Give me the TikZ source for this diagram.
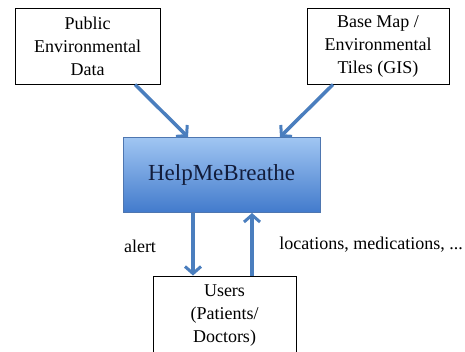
\documentclass[tikz,border=0pt]{standalone}
\usepackage{fontspec}
\setmainfont{Liberation Serif}
\usetikzlibrary{arrows.meta}
\definecolor{arrowblue}{RGB}{74,126,190}
\definecolor{boxtop}{RGB}{160,198,242}
\definecolor{boxbot}{RGB}{66,122,204}
\definecolor{boxedge}{RGB}{78,118,176}
\definecolor{navytext}{RGB}{18,28,58}
\tikzset{
  plainbox/.style={draw=black, line width=1pt, fill=white, align=center,
    font=\fontsize{18}{23}\selectfont, inner sep=0pt},
  mainbox/.style={draw=boxedge, line width=1pt, top color=boxtop, bottom color=boxbot,
    font=\fontsize{23}{27}\selectfont, text=navytext, inner sep=0pt},
  flow/.style={draw=arrowblue, line width=3.5pt,
    -{Straight Barb[length=7pt,width=16pt,line width=3pt]}},
  lbl/.style={font=\fontsize{18}{22}\selectfont, inner sep=0pt}
}
\begin{document}
\begin{tikzpicture}[x=1pt,y=-1pt]
\clip (0,0) rectangle (465,351);
\fill[white] (0,0) rectangle (465,351);
\node[plainbox, minimum width=145pt, minimum height=76pt] (pub) at (87.5,46) {Public\\Environmental\\Data};
\node[plainbox, minimum width=142pt, minimum height=76pt] (base) at (378,46) {Base Map /\\Environmental\\Tiles (GIS)};
\node[mainbox, minimum width=197pt, minimum height=75pt] (hmb) at (221.5,175) {HelpMeBreathe};
\node[plainbox, minimum width=143pt, minimum height=80pt] (users) at (224.5,316) {Users\\(Patients/\\Doctors)};
\draw[flow] ([xshift=47.5pt]pub.south) -- ([xshift=-33.5pt]hmb.north);
\draw[flow] ([xshift=-45pt]base.south) -- ([xshift=58.5pt]hmb.north);
\draw[flow] ([xshift=-28.5pt]hmb.south) -- ([xshift=-28.5pt]hmb.south |- users.north);
\draw[flow] ([xshift=30.5pt]hmb.south |- users.north) -- ([xshift=30.5pt]hmb.south);
\node[lbl] (alert) at (140,246) {alert};
\node[lbl] (locs) at (371,245) {locations, medications, ...};
\end{tikzpicture}
\end{document}
